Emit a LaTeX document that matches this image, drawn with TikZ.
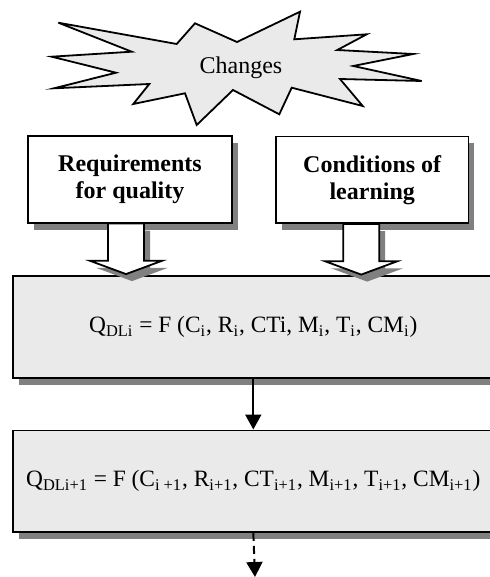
\documentclass[tikz,border=0pt]{standalone}
\usepackage{fontspec}
\setmainfont{Liberation Serif}
\usetikzlibrary{arrows.meta,%
                shadows}
\definecolor{boxgray}{RGB}{234,234,234}
\definecolor{shadegray}{RGB}{128,128,128}

\begin{document}
\begin{tikzpicture}[x=0.5pt,y=-0.5pt,font=\fontsize{12}{13.5}\selectfont]
		\tikzstyle{ShadowStyle}=[drop shadow={shadow xshift=3pt,shadow yshift=-3.5pt,fill=shadegray,opacity=1}]
		\tikzstyle{SmallBox}=[draw,line width=0.9pt,fill=white,ShadowStyle,minimum height=43.3pt,align=center,font=\fontsize{12}{13.5}\selectfont\bfseries]
		\tikzstyle{BigBox}=[draw,line width=0.9pt,fill=boxgray,ShadowStyle,minimum width=240.7pt,minimum height=50.8pt,font=\fontsize{11.7}{13.5}\selectfont]
		\tikzstyle{BlockArrow}=[draw,line width=0.9pt,fill=white,line join=miter,ShadowStyle]
		\useasboundingbox (0,0) rectangle (489,577);
		% burst
		\draw[line width=0.9pt,fill=boxgray,line join=miter]
			(58.3,22.7) -- (176.7,44) -- (195,23.3) -- (237,42) -- (300,11.7)
			-- (294.3,39.3) -- (366.7,34.3) -- (337.3,50) -- (413.3,54)
			-- (353.3,66) -- (421.7,81) -- (340,79) -- (362.7,106)
			-- (291.7,87.7) -- (279.3,114.3) -- (233,90) -- (196.7,125)
			-- (185,93.3) -- (133.3,104) -- (149.3,84) -- (54,88.3)
			-- (116,72.7) -- (51.7,56.7) -- (131.7,51.7) -- cycle;
		\node (chg) at (241,68) {Changes};
		% inputs
		\node[SmallBox,minimum width=102.3pt] (req) at (130,179.3) {Requirements\\for quality};
		\node[SmallBox,minimum width=96.2pt] (cond) at (372.2,179.8) {Conditions of\\learning};
		% quality
		\node[BigBox] (qi) at (253.3,326.8) {Q\textsubscript{DLi} = F (C\textsubscript{i}, R\textsubscript{i}, CTi, M\textsubscript{i}, T\textsubscript{i}, CM\textsubscript{i})};
		\node[BigBox] (qn) at (253.3,481.2) {Q\textsubscript{DLi+1} = F (C\textsubscript{i +1}, R\textsubscript{i+1}, CT\textsubscript{i+1}, M\textsubscript{i+1}, T\textsubscript{i+1}, CM\textsubscript{i+1})};
		\coordinate (nxt) at (255,577);
		% block arrows
		\path[BlockArrow] ([xshift=-2pt]req.south) ++(-18,0) -- ++(0,37.3) -- ++(-18,0)
			-- ++(36,13.3) -- ++(36,-13.3) -- ++(-18,0) -- ++(0,-37.3) -- cycle;
		\path[BlockArrow] ([xshift=-5.5pt]cond.south) ++(-18,0) -- ++(0,37.3) -- ++(-18,0)
			-- ++(36,13.3) -- ++(36,-13.3) -- ++(-18,0) -- ++(0,-37.3) -- cycle;
		\draw[line width=1pt,-{Triangle[length=7.5pt,width=8pt]}] (qi.south) -- (qn.north);
		\draw[line width=1pt,dash pattern=on 4pt off 2.5pt,-{Triangle[length=7.5pt,width=8pt]}] (qn.south) -- (nxt);
	\end{tikzpicture}
\end{document}
